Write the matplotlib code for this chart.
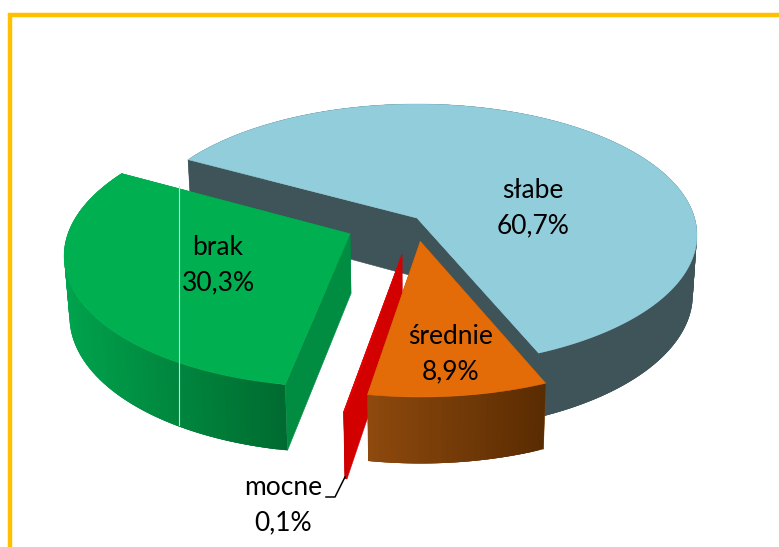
import numpy as np
import matplotlib
matplotlib.use("Agg")
import matplotlib.pyplot as plt
from matplotlib.colors import to_rgb
from matplotlib.patches import Polygon

labels = ["słabe", "średnie", "mocne", "brak"]
values = [60.7, 8.9, 0.1, 30.3]
pct_labels = ["60,7%", "8,9%", "0,1%", "30,3%"]
top_colors = ["#92cddc", "#e36c09", "#e60000", "#00b050"]
cut_colors = ["#3f5459", "#7f3f05", "#d30000", "#008d42"]
wall_left = ["#3f5459", "#8f4a0e", "#cc0000", "#00a34d"]
wall_right = ["#3f5459", "#5a2c02", "#cc0000", "#006b30"]
explode = [0.0, 0.168, 0.267, 0.255]
label_xy = [(533, 208), (451, 354), (283, 505), (218, 265)]

START_DEG = 151.2
NUDGE_X, NUDGE_Y = -0.008, -0.01
CX, CY, A, B, P, Q, H = 417.0, 218.0, 277.6, 128.8, 0.13, 0.015, 60.0

plt.rcParams["font.family"] = ["Lato", "DejaVu Sans"]
fig = plt.figure(figsize=(7.79, 5.47), dpi=100, facecolor="white")
ax = fig.add_axes([0, 0, 1, 1])
ax.set_xlim(0, 779)
ax.set_ylim(547, 0)
ax.axis("off")


def project(X, Y, d):
    den = 1 + P * Y + Q * d
    return np.column_stack((CX + A * X / den, CY + (-B * Y + H * d) / den))


def poly(pts, color, z, lw=0.4):
    ax.add_patch(Polygon(pts, closed=True, facecolor=color, edgecolor=color,
                         linewidth=lw, zorder=z))


ax.plot([10.2, 10.2, 779], [547, 14.6, 14.6], color="#ffc000", lw=3.2,
        solid_joinstyle="miter", zorder=1)

fractions = np.array(values) / 100.0
bounds = START_DEG - 360.0 * np.concatenate(([0.0], np.cumsum(fractions) / fractions.sum()))
for rank, i in enumerate([0, 2, 1, 3]):
    z = 2 + rank
    a0, a1 = np.radians(bounds[i]), np.radians(bounds[i + 1])
    mid = 0.5 * (a0 + a1)
    ox, oy = explode[i] * np.cos(mid), explode[i] * np.sin(mid)
    if explode[i] > 0:
        ox, oy = ox + NUDGE_X, oy + NUDGE_Y
    th = np.linspace(a0, a1, max(int(abs(a1 - a0) * 60), 4))
    ex, ey = ox + np.cos(th), oy + np.sin(th)
    top = project(ex, ey, 0.0)
    bot = project(ex, ey, 1.0)
    apex_t = project(np.array([ox]), np.array([oy]), 0.0)
    apex_b = project(np.array([ox]), np.array([oy]), 1.0)
    # cut faces
    poly(np.vstack((apex_t, top[:1], bot[:1], apex_b)), cut_colors[i], z)
    poly(np.vstack((apex_t, top[-1:], bot[-1:], apex_b)), cut_colors[i], z)
    # rim with a left-to-right shade; each piece overlaps the next to hide seams
    front = ey < 0.25
    xs = top[front, 0]
    xmin, xmax = xs.min(), xs.max()
    c0, c1 = np.array(to_rgb(wall_left[i])), np.array(to_rgb(wall_right[i]))
    ts = np.clip((top[:, 0] - xmin) / max(xmax - xmin, 1), 0, 1)
    for k in range(len(th) - 1):
        end = min(k + 4, len(th))
        poly(np.vstack((top[k:end], bot[k:end][::-1])), c0 + (c1 - c0) * ts[k], z, lw=0.0)
    # top face
    poly(np.vstack((apex_t, top)), top_colors[i], z)

ax.plot([179.5, 179.5], [186, 425], color="#c6ead4", lw=0.8, zorder=8)
ax.plot([345, 335, 326], [477, 497, 497], color="black", lw=1.1, zorder=8)

for name, pct, (x, y) in zip(labels, pct_labels, label_xy):
    ax.text(x, y, f"{name}\n{pct}", ha="center", va="center", fontsize=19,
            color="black", linespacing=1.54, zorder=9)

fig.savefig("out.png", dpi=100, facecolor="white")
